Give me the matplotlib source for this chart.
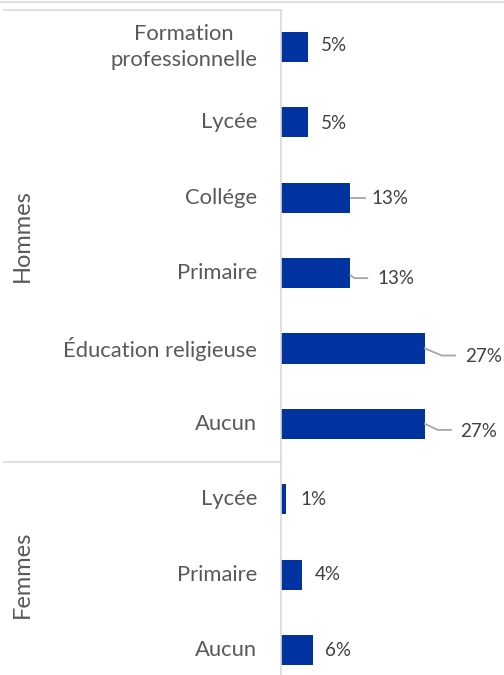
import matplotlib
matplotlib.use("Agg")
import matplotlib.pyplot as plt
from matplotlib.lines import Line2D

plt.rcParams['font.family'] = ['Lato', 'DejaVu Sans']

# data, top to bottom
categories = ["Formation\nprofessionnelle", "Lycée", "Collége", "Primaire",
              "Éducation religieuse", "Aucun", "Lycée", "Primaire", "Aucun"]
values = [5, 5, 13, 13, 27, 27, 1, 4, 6]
value_labels = ["5%", "5%", "13%", "13%", "27%", "27%", "1%", "4%", "6%"]
groups = ["Hommes", "Femmes"]
group_sizes = [6, 3]

bar_color = "#0033A0"
label_color = "#595959"
value_color = "#404040"
line_color = "#D9D9D9"

W, H = 504, 675
fig = plt.figure(figsize=(W / 100, H / 100), dpi=100)
ax_left = 281 / W
ax_top = 1 - 10 / H
ax = fig.add_axes([ax_left, 0, 1 - ax_left, ax_top])

n = len(values)
ypos = list(range(n))
ax.barh(ypos, values, height=0.4, color=bar_color)
ax.set_xlim(0, (W - 281) / 5.33)
ax.set_ylim(8.33, -0.49)
ax.axis("off")

# category labels, right edge 24 px left of the axis
for i, c in enumerate(categories):
    ax.text(-(281 - 257) / 5.33, i, c, ha="right", va="center", multialignment="center",
            fontsize=15.8, color=label_color, linespacing=1.4)

# value labels with leader lines (offsets in pixels from bar end: elbow points, text start)
leaders = {
    2: [(1, 0), (15, 0)],
    3: [(0, 2), (4, 5), (17, 5)],
    4: [(0, 0), (17, 7), (30, 7)],
    5: [(0, 0), (13, 6), (26, 6)],
}
text_off = {0: (13, -1), 1: (13, 1), 2: (21, 1), 3: (27, 5), 4: (40, 8),
            5: (35, 8), 6: (14, 0), 7: (12, 0), 8: (12, 0)}

fig.canvas.draw()
inv = ax.transData.inverted()
for i, v in enumerate(values):
    ax_x, ax_y = ax.transData.transform((v, i))
    if i in leaders:
        pts = [inv.transform((ax_x + dx, ax_y - dy)) for dx, dy in leaders[i]]
        ax.add_line(Line2D([p[0] for p in pts], [p[1] for p in pts],
                           color="#A6A6A6", lw=1.3, clip_on=False))
    dx, dy = text_off[i]
    tx, ty = inv.transform((ax_x + dx, ax_y - dy))
    ax.text(tx, ty, value_labels[i], ha="left", va="center", fontsize=13.5,
            color=value_color)

# frame lines in figure pixel coords
def fline(x0, y0, x1, y1):
    fig.add_artist(Line2D([x0 / W, x1 / W], [1 - y0 / H, 1 - y1 / H],
                          color=line_color, lw=1.2))

fline(0, 2, W, 2)
fline(4, 10, 281, 10)
fline(281, 10, 281, H)
fline(4, 462, 281, 462)

# group labels
start = 0
for g, size in zip(groups, group_sizes):
    mid = start + (size - 1) / 2
    _, gy = ax.transData.transform((0, mid))
    fig.text(22 / W, gy / H, g, rotation=90, ha="center", va="center",
             fontsize=17, color=label_color)
    start += size

fig.savefig("out.png", dpi=100)
